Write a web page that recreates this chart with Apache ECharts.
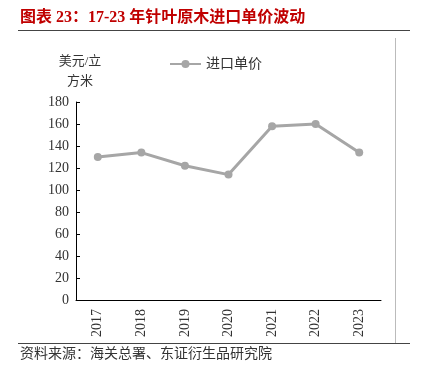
<!DOCTYPE html>
<html>
<head>
<meta charset="utf-8">
<script src="https://cdn.jsdelivr.net/npm/echarts@6/dist/echarts.min.js"></script>
<style>
  html, body { margin: 0; padding: 0; background: #fff; }
  #chart { width: 427px; height: 383px; }
</style>
</head>
<body>
<div id="chart"></div>
<script>
// 17-23 针叶原木进口单价（美元/立方米）
var years = ['2017', '2018', '2019', '2020', '2021', '2022', '2023'];
var unitPrice = [130, 134, 122, 114, 158, 160, 134];
var yTicks = { min: 0, max: 180, interval: 20 };

var serif = '"Liberation Serif", "Noto Sans CJK SC", serif';

var chart = echarts.init(document.getElementById('chart'));

var option = {
    backgroundColor: '#fff',
    animation: false,
    graphic: [
        {
            type: 'text', left: 20, top: 10,
            style: { text: '图表 23：17-23 年针叶原木进口单价波动', fill: '#c00000', font: 'bold 16px ' + serif }
        },
        { type: 'line', shape: { x1: 18, y1: 30.5, x2: 410, y2: 30.5 }, style: { stroke: '#444', lineWidth: 1 } },
        { type: 'line', shape: { x1: 395.5, y1: 38, x2: 395.5, y2: 343 }, style: { stroke: '#bbb', lineWidth: 1 } },
        { type: 'line', shape: { x1: 18, y1: 343.5, x2: 410, y2: 343.5 }, style: { stroke: '#444', lineWidth: 1 } },
        {
            type: 'text', left: 20, top: 347,
            style: { text: '资料来源：海关总署、东证衍生品研究院', fill: '#333', font: '14px ' + serif }
        },
        {
            type: 'text',
            style: { x: 80, y: 52, text: '美元/立\n方米', fill: '#333', font: '13px ' + serif, align: 'center', lineHeight: 20 }
        }
    ],
    legend: {
        data: ['进口单价'],
        left: 164, top: 52,
        itemWidth: 31, itemHeight: 10,
        itemGap: 6,
        textStyle: { color: '#333', fontSize: 14, fontFamily: serif }
    },
    grid: { left: 76, right: 46, top: 102, bottom: 83 },
    xAxis: {
        type: 'category',
        data: years,
        boundaryGap: true,
        axisLine: { lineStyle: { color: '#000', width: 1 } },
        axisTick: { inside: true, length: 4, lineStyle: { color: '#000' } },
        axisLabel: { rotate: 90, color: '#333', fontSize: 14, fontFamily: serif, margin: 9 }
    },
    yAxis: {
        type: 'value',
        min: yTicks.min, max: yTicks.max, interval: yTicks.interval,
        axisLine: { show: true, lineStyle: { color: '#000', width: 1 } },
        axisTick: { show: true, inside: true, length: 4, lineStyle: { color: '#000' } },
        splitLine: { show: false },
        axisLabel: { color: '#333', fontSize: 14, fontFamily: serif, margin: 7 }
    },
    series: [
        {
            name: '进口单价',
            type: 'line',
            data: unitPrice,
            symbol: 'circle',
            symbolSize: 8,
            lineStyle: { color: '#a6a6a6', width: 3 },
            itemStyle: { color: '#a6a6a6' }
        }
    ]
};

chart.setOption(option);
</script>
</body>
</html>
